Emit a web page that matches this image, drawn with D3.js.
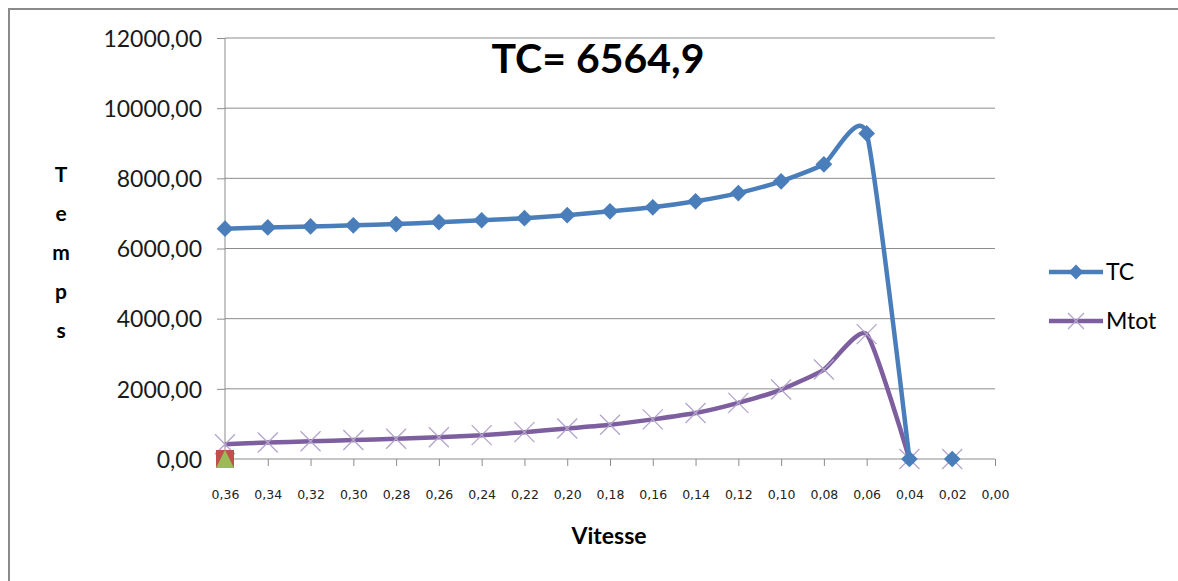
<!DOCTYPE html>
<html><head><meta charset="utf-8">
<script src="https://cdn.jsdelivr.net/npm/d3@7"></script>
<style>body{margin:0;background:#fff}svg{display:block}</style>
</head><body>
<script>
// catégories (vitesse) et séries
const vitesse=["0,36","0,34","0,32","0,30","0,28","0,26","0,24","0,22","0,20","0,18","0,16","0,14","0,12","0,10","0,08","0,06","0,04","0,02","0,00"];
const tc=[6564.9,6600,6630,6660,6695,6750,6805,6865,6950,7060,7175,7345,7580,7915,8400,9280,0,0,null];
const mtot=[420,470,505,540,575,620,680,765,870,975,1130,1310,1600,1980,2550,3560,0,0,null];
const serie3=[0]; // carré rouge à 0,36
const serie4=[0]; // triangle vert à 0,36
const yTicks=[0,2000,4000,6000,8000,10000,12000];

const W=1178,H=581;
const FONT="Lato, 'Open Sans', sans-serif";
const svg=d3.select("body").append("svg").attr("width",W).attr("height",H);
svg.append("rect").attr("width",W).attr("height",H).attr("fill","#fff");
// cadre
svg.append("path").attr("d",`M9,${H+2} V9 H${W+2}`).attr("fill","none").attr("stroke","#8a8a8a").attr("stroke-width",2);

const x=d3.scalePoint().domain(vitesse).range([225,995]);
const y=d3.scaleLinear().domain([0,12000]).range([459,38]);
const fmt=d=>d3.format(".2f")(d).replace(".",",");

// grille
svg.append("g").selectAll("line").data(yTicks.slice(1)).join("line")
  .attr("x1",225).attr("x2",995).attr("y1",d=>y(d)).attr("y2",d=>y(d))
  .attr("stroke","#8c8c8c").attr("stroke-width",1);

// axe Y
const ya=svg.append("g").attr("transform","translate(225,0)")
  .call(d3.axisLeft(y).tickValues(yTicks).tickFormat(fmt).tickSize(8).tickPadding(15));
ya.select(".domain").attr("stroke","#8c8c8c").attr("d","M0,38 V459");
ya.selectAll(".tick line").attr("stroke","#8c8c8c");
ya.selectAll("text").attr("font-family",FONT).attr("font-size",23).attr("fill","#1a1a1a").attr("dy","0.36em");

// axe X
const xa=svg.append("g").attr("transform","translate(0,459)")
  .call(d3.axisBottom(x).tickSize(7).tickPadding(24));
xa.select(".domain").attr("stroke","#8c8c8c").attr("d","M225,0 H995");
xa.selectAll(".tick line").attr("stroke","#8c8c8c");
xa.selectAll("text").attr("font-family","'DejaVu Sans', sans-serif").attr("font-size",12.5).attr("fill","#222");

// titres
svg.append("text").attr("x",598).attr("y",73).attr("text-anchor","middle")
  .attr("font-family",FONT).attr("font-weight",700).attr("font-size",41)
  .attr("fill","#000").text("TC= 6564,9");
svg.append("text").attr("x",609).attr("y",544).attr("text-anchor","middle")
  .attr("font-family",FONT).attr("font-weight",700).attr("font-size",23)
  .attr("fill","#000").text("Vitesse");
"Temps".split("").forEach((c,i)=>{
  svg.append("text").attr("x",61).attr("y",182+i*39).attr("text-anchor","middle")
    .attr("font-family",FONT).attr("font-weight",700).attr("font-size",21)
    .attr("fill","#000").text(c);
});

const BLUE="#4a7ebb",PURPLE="#7d5fa0",LPURP="#b4a4cb";
const line=d3.line().x(d=>x(d[0])).y(d=>y(d[1])).curve(d3.curveCardinal.tension(0.45));
const pts=arr=>arr.map((v,i)=>[vitesse[i],v]).filter(d=>d[1]!=null);
// la courbe s'arrête à 0,04 ; le point 0,02 est isolé
const seg=arr=>arr.slice(0,17).map((v,i)=>[vitesse[i],v]);

// Mtot
svg.append("path").attr("d",line(seg(mtot))).attr("fill","none").attr("stroke",PURPLE).attr("stroke-width",4.5);
svg.append("g").selectAll("path").data(pts(mtot)).join("path")
  .attr("d",d=>{const cx=x(d[0]),cy=y(d[1]);return `M${cx-10},${cy-10}L${cx+10},${cy+10}M${cx-10},${cy+10}L${cx+10},${cy-10}`;})
  .attr("stroke",LPURP).attr("stroke-width",1.3).attr("fill","none");

// TC
svg.append("path").attr("d",line(seg(tc))).attr("fill","none").attr("stroke",BLUE).attr("stroke-width",4.5);
svg.append("g").selectAll("path").data(pts(tc)).join("path")
  .attr("transform",d=>`translate(${x(d[0])},${y(d[1])}) rotate(45)`)
  .attr("d",d3.symbol().type(d3.symbolSquare).size(140)).attr("fill",BLUE);

// séries 3 et 4
svg.append("g").selectAll("rect").data(serie3).join("rect")
  .attr("x",(d,i)=>x(vitesse[i])-9).attr("y",d=>y(d)-9).attr("width",18).attr("height",18).attr("fill","#c0504d");
svg.append("g").selectAll("path").data(serie4).join("path")
  .attr("d",(d,i)=>{const cx=x(vitesse[i]),cy=y(d);return `M${cx},${cy-9}L${cx+9},${cy+9}L${cx-9},${cy+9}Z`;})
  .attr("fill","#9bbb59");

// légende
const leg=[{n:"TC",c:BLUE,m:"d",y:272},{n:"Mtot",c:PURPLE,m:"x",y:321}];
leg.forEach(l=>{
  svg.append("line").attr("x1",1049).attr("x2",1103).attr("y1",l.y).attr("y2",l.y).attr("stroke",l.c).attr("stroke-width",4.5);
  if(l.m==="d")svg.append("path").attr("transform",`translate(1076,${l.y}) rotate(45)`)
    .attr("d",d3.symbol().type(d3.symbolSquare).size(110)).attr("fill",BLUE);
  else svg.append("path").attr("d",`M1068,${l.y-8}L1084,${l.y+8}M1068,${l.y+8}L1084,${l.y-8}`).attr("stroke",LPURP).attr("stroke-width",1.3);
  svg.append("text").attr("x",1106).attr("y",l.y).attr("dy","0.36em")
    .attr("font-family",FONT).attr("font-size",23).attr("fill","#000").text(l.n);
});
</script>
</body></html>
